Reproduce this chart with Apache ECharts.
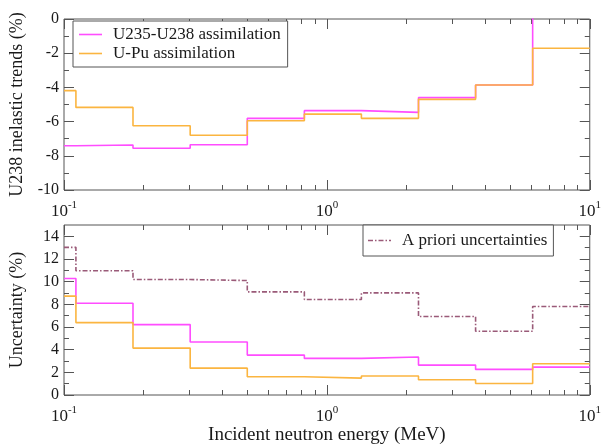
<!DOCTYPE html>
<html><head><meta charset="utf-8">
<script src="https://cdn.jsdelivr.net/npm/echarts@6/dist/echarts.min.js"></script>
<style>html,body{margin:0;padding:0;background:#fff}#c{width:604px;height:446px}</style>
</head><body><div id="c"></div>
<script>
// Bin edges (MeV) of the energy group structure
const binEdges = [0.1, 0.111, 0.183, 0.302, 0.498, 0.821, 1.353, 2.231, 3.679, 6.065, 10];
// Top panel: U238 inelastic trends (%)
const trendU235U238 = [-7.41, -7.37, -7.56, -7.35, -5.81, -5.36, -5.46, -4.60, -3.86, 1.0];
const trendUPu      = [-4.19, -5.17, -6.24, -6.80, -5.95, -5.56, -5.81, -4.70, -3.86, -1.71];
// Bottom panel: uncertainty (%)
const uncU235U238 = [10.28, 8.10, 6.21, 4.67, 3.52, 3.23, 3.35, 2.64, 2.26, 2.46];
const uncUPu      = [8.72, 6.39, 4.14, 2.37, 1.61, 1.49, 1.67, 1.34, 1.02, 2.76];
const uncPrior    = [13.03, 10.96, 10.19, 10.10, 9.10, 8.42, 9.01, 6.92, 5.62, 7.81];
// Tick values
const xMajorTicks = [0.1, 1, 10];
const xMinorTicks = [0.2, 0.3, 0.4, 0.5, 0.6, 0.7, 0.8, 0.9, 2, 3, 4, 5, 6, 7, 8, 9];
const trendMajorTicks = [-10, -8, -6, -4, -2, 0];
const trendMinorTicks = [-9, -7, -5, -3, -1];
const uncMajorTicks = [0, 2, 4, 6, 8, 10, 12, 14];
const uncMinorTicks = [1, 3, 5, 7, 9, 11, 13];

const NAME_A = 'U235-U238 assimilation';
const NAME_B = 'U-Pu assimilation';
const NAME_C = 'A priori uncertainties';
const FONT = 'Liberation Serif';
const AXC = '#555';
const TXT = '#1a1a1a';
const PINK = '#ff4dff';
const ORANGE = '#fbb540';
const PRIOR = '#9a5a78';

// histogram outline: each bin value held from its lower to its upper edge
function steps(values) {
  const d = [];
  values.forEach((v, i) => { d.push([binEdges[i], v]); d.push([binEdges[i + 1], v]); });
  return d;
}

const xLabelFmt = v => {
  const e = Math.round(Math.log10(v));
  return '{b|10}{s|' + e + '}';
};
const xRich = {
  b: { fontFamily: FONT, fontSize: 17, color: TXT, lineHeight: 20, verticalAlign: 'bottom' },
  s: { fontFamily: FONT, fontSize: 11, color: TXT, lineHeight: 12, verticalAlign: 'top' }
};

function xAxes(g) {
  const base = { type: 'log', logBase: 10, min: 0.1, max: 10, gridIndex: g,
    axisLine: { show: false, onZero: false }, splitLine: { show: false } };
  return [
    Object.assign({}, base, { position: 'bottom',
      axisTick: { inside: true, length: 10, customValues: xMajorTicks, lineStyle: { color: AXC } },
      axisLabel: { customValues: xMajorTicks, formatter: xLabelFmt, rich: xRich, margin: 10 },
      name: g === 1 ? 'Incident neutron energy (MeV)' : '',
      nameLocation: 'middle', nameGap: 30,
      nameTextStyle: { fontFamily: FONT, fontSize: 19, color: TXT } }),
    Object.assign({}, base, { position: 'bottom',
      axisTick: { inside: true, length: 5, customValues: xMinorTicks, lineStyle: { color: AXC } },
      axisLabel: { show: false } }),
    Object.assign({}, base, { position: 'top',
      axisTick: { inside: true, length: 10, customValues: xMajorTicks, lineStyle: { color: AXC } },
      axisLabel: { show: false } }),
    Object.assign({}, base, { position: 'top',
      axisTick: { inside: true, length: 5, customValues: xMinorTicks, lineStyle: { color: AXC } },
      axisLabel: { show: false } })
  ];
}

function yAxes(g, min, max, major, minor, title) {
  const base = { type: 'value', min: min, max: max, gridIndex: g,
    axisLine: { show: false, onZero: false }, splitLine: { show: false } };
  return [
    Object.assign({}, base, { position: 'left',
      axisTick: { inside: true, length: 10, customValues: major, lineStyle: { color: AXC } },
      axisLabel: { customValues: major, fontFamily: FONT, fontSize: 16, color: TXT, margin: 5 },
      name: title, nameLocation: 'middle', nameGap: 38,
      nameTextStyle: { fontFamily: FONT, fontSize: 18, color: TXT } }),
    Object.assign({}, base, { position: 'left',
      axisTick: { inside: true, length: 5, customValues: minor, lineStyle: { color: AXC } },
      axisLabel: { show: false } }),
    Object.assign({}, base, { position: 'right',
      axisTick: { inside: true, length: 10, customValues: major, lineStyle: { color: AXC } },
      axisLabel: { show: false } }),
    Object.assign({}, base, { position: 'right',
      axisTick: { inside: true, length: 5, customValues: minor, lineStyle: { color: AXC } },
      axisLabel: { show: false } })
  ];
}

function stepSeries(name, values, g, color, type) {
  return {
    name: name, type: 'line', data: steps(values),
    xAxisIndex: g * 4, yAxisIndex: g * 4, symbol: 'none', showSymbol: false, clip: true,
    lineStyle: { color: color, width: 1.6, type: type || 'solid' },
    itemStyle: { color: color }, animation: false
  };
}

const SOLID_ICON = 'rect';
const DASHDOT_ICON = 'path://M0,0h5v1.6h-5z M7,0h1.5v1.6h-1.5z M10.5,0h5v1.6h-5z M17.5,0h1.5v1.6h-1.5z M21,0h2v1.6h-2z';

const legendBase = {
  orient: 'vertical', backgroundColor: '#fff', borderColor: AXC, borderWidth: 1,
  borderRadius: 0, itemWidth: 23, itemHeight: 1.6, itemGap: 0,
  textStyle: { fontFamily: FONT, fontSize: 17, color: TXT, lineHeight: 19, padding: [0, 0, 0, 6] },
  selectedMode: false
};

const option = {
  animation: false,
  backgroundColor: '#fff',
  grid: [
    { left: 57, top: 19, width: 535, height: 171, show: true, borderColor: AXC, borderWidth: 1, backgroundColor: 'transparent' },
    { left: 57, top: 225, width: 535, height: 170, show: true, borderColor: AXC, borderWidth: 1, backgroundColor: 'transparent' }
  ],
  xAxis: xAxes(0).concat(xAxes(1)),
  yAxis: yAxes(0, -10, 0, trendMajorTicks, trendMinorTicks, 'U238 inelastic trends (%)')
    .concat(yAxes(1, 0, 15, uncMajorTicks, uncMinorTicks, 'Uncertainty (%)')),
  legend: [
    Object.assign({}, legendBase, { left: 73, top: 21, padding: [4, 7, 4, 6],
      data: [{ name: NAME_A, icon: SOLID_ICON }, { name: NAME_B, icon: SOLID_ICON }] }),
    Object.assign({}, legendBase, { left: 363, top: 225, padding: [6, 6, 6, 5],
      data: [{ name: NAME_C, icon: DASHDOT_ICON }] })
  ],
  series: [
    stepSeries(NAME_A, trendU235U238, 0, PINK),
    stepSeries(NAME_B, trendUPu, 0, ORANGE),
    stepSeries(NAME_C, uncPrior, 1, PRIOR, [5, 2, 1.5, 2]),
    stepSeries(NAME_A, uncU235U238, 1, PINK),
    stepSeries(NAME_B, uncUPu, 1, ORANGE)
  ]
};

const chart = echarts.init(document.getElementById('c'), null, { renderer: 'canvas' });
chart.setOption(option);
</script>
</body></html>
